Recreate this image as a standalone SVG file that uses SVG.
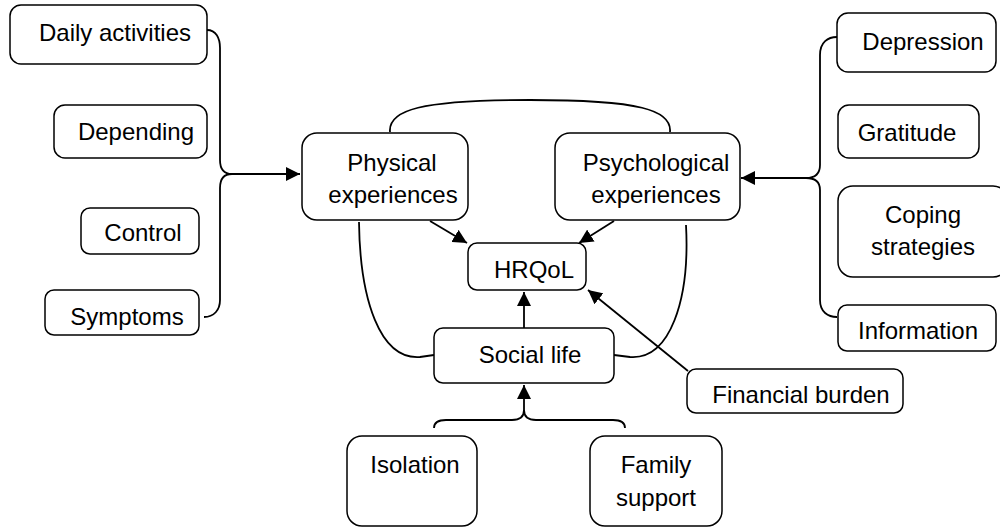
<svg xmlns="http://www.w3.org/2000/svg" width="1000" height="529" viewBox="0 0 1000 529">
<style>
.box{fill:#fff;stroke:#000;stroke-width:1.5}
.t{font-family:"Liberation Sans",Arial,sans-serif;font-size:24px;fill:#000}
.c{fill:none;stroke:#000;stroke-width:1.8}
</style>
<defs>
<marker id="ah2" viewBox="0 0 10 10" refX="10" refY="5" markerWidth="14" markerHeight="14" markerUnits="userSpaceOnUse" orient="auto">
<path d="M0,0 L10,5 L0,10 Z" fill="#000"/>
</marker>
</defs>
<rect width="1000" height="529" fill="#fff"/>
<g id="connectors">
<path class="c" d="M207,30 C216,30 220,38 220,48 L220,160 C220,170 224,174 232,174 L300,174" marker-end="url(#ah2)"/>
<path class="c" d="M204,317 C214,317 220,310 220,300 L220,188 C220,178 224,174 232,174"/>
<path class="c" d="M837,37 C828,37 820,42 820,55 L820,165 C820,174 815,178 806,178 L741,178" marker-end="url(#ah2)"/>
<path class="c" d="M837,317 C828,317 820,312 820,300 L820,190 C820,182 815,178 806,178"/>
<path class="c" d="M434,428 C434,422 438,420 446,420 L512,420 C520,420 524,416 524,410 L524,385" marker-end="url(#ah2)"/>
<path class="c" d="M625,428 C625,422 621,420 613,420 L536,420 C528,420 524,416 524,410"/>
<path class="c" d="M524,328 L524,292" marker-end="url(#ah2)"/>
<path class="c" d="M430,221 L467,243" marker-end="url(#ah2)"/>
<path class="c" d="M614,221 L579,243" marker-end="url(#ah2)"/>
<path class="c" d="M688,371 L588,290" marker-end="url(#ah2)"/>
<path class="c" d="M390,132 C388,110 420,100 530,100 C640,100 672,110 670,132"/>
<path class="c" d="M359,222 C360,300 380,360 420,357 L434,355"/>
<path class="c" d="M686,225 C690,300 670,360 630,357 L614,355"/>
</g>
<g id="daily"><rect class="box" x="10" y="5" width="197" height="59" rx="11"/><text class="t" x="115" y="41" text-anchor="middle">Daily activities</text></g>
<g id="depending"><rect class="box" x="54" y="105" width="153" height="53" rx="11"/><text class="t" x="136" y="140" text-anchor="middle">Depending</text></g>
<g id="control"><rect class="box" x="81" y="208" width="118" height="46" rx="9"/><text class="t" x="143" y="241" text-anchor="middle">Control</text></g>
<g id="symptoms"><rect class="box" x="45" y="290" width="154" height="45" rx="9"/><text class="t" x="127" y="325" text-anchor="middle">Symptoms</text></g>
<g id="physical"><rect class="box" x="302" y="133" width="166" height="87" rx="15"/><text class="t" x="392" y="171" text-anchor="middle">Physical</text><text class="t" x="393" y="203" text-anchor="middle">experiences</text></g>
<g id="psychological"><rect class="box" x="555" y="133" width="185" height="87" rx="15"/><text class="t" x="656" y="171" text-anchor="middle">Psychological</text><text class="t" x="656" y="203" text-anchor="middle">experiences</text></g>
<g id="hrqol"><rect class="box" x="468" y="243" width="118" height="47" rx="9"/><text class="t" x="534" y="278" text-anchor="middle">HRQoL</text></g>
<g id="social"><rect class="box" x="434" y="328" width="180" height="55" rx="9"/><text class="t" x="530" y="363" text-anchor="middle">Social life</text></g>
<g id="depression"><rect class="box" x="837" y="13" width="159" height="59" rx="11"/><text class="t" x="923" y="50" text-anchor="middle">Depression</text></g>
<g id="gratitude"><rect class="box" x="838" y="105" width="141" height="53" rx="11"/><text class="t" x="907" y="141" text-anchor="middle">Gratitude</text></g>
<g id="coping"><rect class="box" x="838" y="186" width="170" height="91" rx="15"/><text class="t" x="923" y="223" text-anchor="middle">Coping</text><text class="t" x="923" y="255" text-anchor="middle">strategies</text></g>
<g id="information"><rect class="box" x="838" y="305" width="158" height="46" rx="9"/><text class="t" x="918" y="339" text-anchor="middle">Information</text></g>
<g id="financial"><rect class="box" x="687" y="369" width="216" height="44" rx="9"/><text class="t" x="801" y="403" text-anchor="middle">Financial burden</text></g>
<g id="isolation"><rect class="box" x="347" y="436" width="130" height="90" rx="15"/><text class="t" x="415" y="473" text-anchor="middle">Isolation</text></g>
<g id="family"><rect class="box" x="590" y="436" width="132" height="90" rx="15"/><text class="t" x="656" y="473" text-anchor="middle">Family</text><text class="t" x="656" y="506" text-anchor="middle">support</text></g>
</svg>
